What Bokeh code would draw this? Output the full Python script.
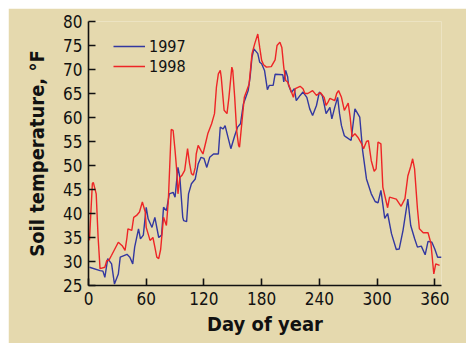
from bokeh.plotting import figure
from bokeh.models import ColumnDataSource, FixedTicker, Range1d, Legend, LegendItem
from bokeh.embed import file_html
from bokeh.resources import INLINE

# ---- data ----
days_1997 = [1, 12, 15, 17, 20, 24, 27, 31, 33, 40, 43, 46, 48, 52, 54, 57, 60, 62, 66, 69,
             73, 76, 78, 81, 84, 88, 90, 93, 95, 98, 99, 102, 104, 107, 111, 114, 117, 120,
             123, 126, 130, 135, 137, 140, 142, 145, 148, 152, 155, 158, 161, 163, 166, 168,
             170, 172, 176, 178, 180, 183, 186, 188, 192, 194, 202, 203, 205, 207, 208, 211,
             214, 216, 220, 223, 227, 230, 233, 237, 240, 243, 245, 247, 251, 253, 256, 259,
             261, 263, 266, 268, 273, 277, 282, 285, 289, 294, 298, 301, 304, 308, 311, 315,
             320, 323, 327, 332, 335, 339, 342, 346, 350, 353, 357, 360, 363, 367]
temp_1997 = [28.8, 28.1, 28.0, 26.7, 30.6, 29.5, 25.3, 27.4, 30.9, 31.5, 30.9, 29.5, 33.0,
             36.8, 34.7, 35.5, 41.3, 38.9, 37.1, 39.2, 35.0, 35.5, 41.3, 40.6, 44.1, 44.4,
             43.4, 49.6, 47.5, 39.2, 38.5, 38.3, 44.1, 46.2, 47.2, 50.3, 51.7, 51.5, 49.6,
             51.7, 52.4, 52.4, 58.0, 57.6, 58.3, 55.9, 53.5, 56.2, 58.0, 58.7, 62.8, 63.9,
             65.6, 68.4, 72.6, 74.3, 73.3, 71.5, 71.2, 69.8, 65.8, 66.7, 66.7, 69.0, 68.9,
             67.4, 69.8, 68.5, 66.7, 65.2, 66.0, 63.5, 64.6, 65.3, 64.2, 61.8, 60.4, 62.5,
             65.3, 64.6, 62.8, 60.8, 62.1, 59.7, 62.1, 64.2, 60.8, 58.3, 56.2, 55.9, 55.2,
             61.8, 60.1, 53.1, 47.2, 44.1, 42.5, 42.2, 44.8, 39.0, 40.0, 35.8, 32.5, 32.6,
             36.5, 43.0, 37.5, 34.8, 33.0, 33.2, 31.4, 34.2, 34.0, 32.6, 30.9, 30.9]

days_1998 = [1, 4, 5, 8, 10, 12, 17, 19, 21, 24, 31, 35, 38, 40, 41, 45, 47, 50, 53, 56,
             59, 60, 64, 67, 69, 71, 73, 75, 78, 81, 83, 86, 88, 90, 92, 93, 95, 97, 100,
             103, 105, 107, 109, 111, 112, 114, 117, 119, 122, 124, 128, 131, 133, 135, 137,
             138, 141, 144, 146, 149, 150, 152, 154, 156, 157, 159, 162, 164, 167, 170, 173,
             176, 178, 180, 182, 185, 190, 194, 196, 199, 201, 203, 205, 207, 211, 213, 215,
             220, 223, 225, 228, 233, 237, 241, 245, 247, 249, 251, 256, 258, 260, 263, 266,
             270, 272, 274, 277, 280, 284, 286, 289, 291, 294, 297, 299, 301, 304, 306, 311,
             313, 320, 325, 329, 332, 335, 337, 339, 342, 344, 348, 353, 356, 359, 361, 365]
temp_1998 = [34.4, 46.2, 46.5, 44.1, 35.0, 28.5, 28.8, 30.2, 30.2, 31.3, 34.0, 33.3, 32.3,
             35.0, 36.8, 36.5, 39.2, 39.6, 40.3, 42.4, 40.3, 37.1, 34.4, 35.0, 33.0, 30.9,
             30.6, 32.5, 39.2, 37.5, 42.7, 57.5, 57.3, 53.1, 48.3, 44.1, 47.5, 47.9, 49.0,
             53.5, 50.5, 48.3, 48.0, 49.6, 52.4, 54.2, 53.1, 52.4, 54.9, 56.6, 58.7, 60.8,
             66.3, 69.1, 69.8, 68.4, 61.5, 60.8, 64.2, 70.5, 69.8, 64.2, 57.3, 54.2, 53.8,
             58.0, 64.2, 65.3, 67.0, 73.3, 75.5, 77.4, 74.6, 71.9, 71.0, 70.5, 70.6, 72.0,
             75.0, 75.7, 74.6, 70.5, 67.7, 67.4, 65.3, 64.2, 66.0, 66.5, 66.0, 65.0, 65.0,
             65.6, 64.6, 65.2, 64.2, 62.5, 63.2, 64.0, 63.5, 65.0, 65.6, 64.2, 61.5, 63.0,
             60.1, 56.0, 56.6, 55.9, 54.5, 53.5, 55.0, 55.2, 51.0, 48.8, 49.3, 54.9, 54.5,
             45.5, 41.2, 43.4, 43.0, 41.5, 43.1, 47.8, 49.8, 51.4, 49.3, 41.0, 36.8, 36.0,
             36.0, 33.8, 27.4, 29.5, 29.2]

series_names = ["1997", "1998"]
x_ticks = [0, 60, 120, 180, 240, 300, 360]
y_ticks = [25, 30, 35, 40, 45, 50, 55, 60, 65, 70, 75, 80]

FONT = "DejaVu Sans Condensed, Liberation Sans, sans-serif"
BG = "#E5D9AE"
BLUE = "#3338A0"
RED = "#EE2526"

p = figure(width=458, height=335, output_backend="svg", toolbar_location=None,
           x_range=Range1d(0, 367), y_range=Range1d(25, 80),
           min_border_left=80, min_border_right=25, min_border_top=13, min_border_bottom=58)
p.margin = (8, 0, 0, 8)
p.background_fill_color = BG
p.border_fill_color = BG
p.outline_line_color = None
p.grid.visible = False

src97 = ColumnDataSource(dict(x=days_1997, y=temp_1997))
src98 = ColumnDataSource(dict(x=days_1998, y=temp_1998))
r97 = p.line("x", "y", source=src97, line_color=BLUE, line_width=1.4)
r98 = p.line("x", "y", source=src98, line_color=RED, line_width=1.4)

for ax in (p.xaxis[0], p.yaxis[0]):
    ax.axis_line_color = "#111111"
    ax.axis_line_width = 1.6
    ax.major_tick_line_color = "#111111"
    ax.major_tick_line_width = 1.6
    ax.major_tick_in = 7
    ax.major_tick_out = 0
    ax.minor_tick_line_color = None
    ax.major_label_text_font = FONT
    ax.major_label_text_font_size = "17px"
    ax.major_label_text_color = "#111111"
    ax.axis_label_text_font = FONT
    ax.axis_label_text_font_size = "20px"
    ax.axis_label_text_font_style = "bold"
    ax.axis_label_text_color = "#111111"

p.xaxis[0].ticker = FixedTicker(ticks=x_ticks)
p.yaxis[0].ticker = FixedTicker(ticks=y_ticks)
p.xaxis[0].axis_label = "Day of year"
p.yaxis[0].axis_label = "Soil temperature, °F"
p.xaxis[0].major_label_standoff = 6
p.xaxis[0].axis_label_standoff = 4
p.yaxis[0].major_label_standoff = 6
p.yaxis[0].axis_label_standoff = 11

legend = Legend(items=[LegendItem(label=series_names[0], renderers=[r97]),
                       LegendItem(label=series_names[1], renderers=[r98])],
                location=(25, 209), padding=0, margin=0, spacing=0,
                glyph_width=32, glyph_height=20, label_height=20, label_standoff=4,
                border_line_color=None, background_fill_alpha=0,
                label_text_font=FONT, label_text_font_size="16px", label_text_color="#111111")
p.add_layout(legend)

open("out.html", "w").write(file_html(p, INLINE))
